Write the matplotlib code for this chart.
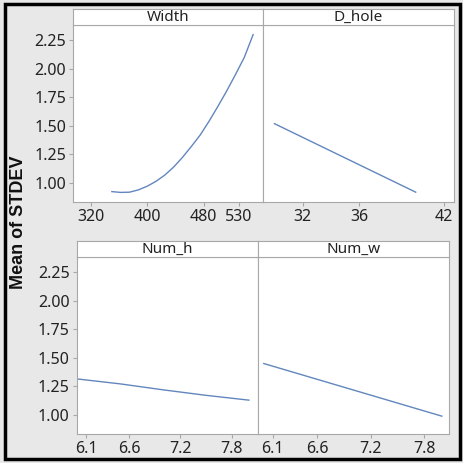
import matplotlib
matplotlib.use("Agg")
import matplotlib.pyplot as plt
from matplotlib.patches import Rectangle

plt.rcParams["font.family"] = ["Noto Sans", "DejaVu Sans"]

# ── Data (main effects, mean of STDEV) ───────────────────────────────────────
width_x = [350, 362.5, 375, 387.5, 400, 412.5, 425, 437.5, 450, 462.5,
           475, 487.5, 500, 512.5, 525, 537.5, 550]
width_y = [0.925, 0.918, 0.92, 0.94, 0.972, 1.015, 1.07, 1.14, 1.225, 1.32,
           1.42, 1.54, 1.67, 1.805, 1.95, 2.10, 2.30]

dhole_x = [30, 35, 40]
dhole_y = [1.52, 1.22, 0.92]

numh_x = [6.0, 6.5, 7.0, 7.5, 8.0]
numh_y = [1.315, 1.272, 1.22, 1.172, 1.13]

numw_x = [6.0, 7.0, 8.0]
numw_y = [1.45, 1.22, 0.99]

y_ticks = [1.00, 1.25, 1.50, 1.75, 2.00, 2.25]
width_ticks = [320, 400, 480, 530]
dhole_ticks = [32, 36, 42]
num_ticks = [6.1, 6.6, 7.2, 7.8]

# ── Layout (pixel boxes: left, top, right, bottom) ───────────────────────────
W, H = 464, 463
bg = "#e8e8e8"
edge = "#a8a8a8"
line_col = "#6286bd"

fig = plt.figure(figsize=(W / 100, H / 100), dpi=100, facecolor=bg)


def box(l, t, r, b):
    return [l / W, 1 - b / H, (r - l) / W, (b - t) / H]


def panel(l, t, r, b, head_t, title, x, y, xlim, xticks, show_y):
    ax = fig.add_axes(box(l, t, r, b))
    ax.set_facecolor("white")
    ax.plot(x, y, color=line_col, lw=1.0)
    ax.set_xlim(*xlim)
    ax.set_ylim(0.834, 2.384)
    ax.set_xticks(xticks)
    ax.set_xticklabels([f"{v:g}" for v in xticks])
    ax.set_yticks(y_ticks)
    ax.set_yticklabels([f"{v:.2f}" for v in y_ticks])
    ax.tick_params(length=3, width=0.8, color=edge, labelsize=11.5,
                   labelcolor="#222222", pad=2)
    if not show_y:
        ax.tick_params(axis="y", left=False, labelleft=False)
    for s in ax.spines.values():
        s.set_color(edge)
        s.set_linewidth(0.8)
    # header strip
    hx = fig.add_axes(box(l, head_t, r, t))
    hx.set_facecolor("white")
    hx.set_xticks([])
    hx.set_yticks([])
    for s in hx.spines.values():
        s.set_color(edge)
        s.set_linewidth(0.8)
    hx.text(0.5, 0.45, title, ha="center", va="center", fontsize=11,
            color="#222222", transform=hx.transAxes)
    return ax


panel(73, 25, 263, 202, 9, "Width", width_x, width_y, (295, 564),
      width_ticks, True)
panel(263, 25, 454, 202, 9, "D_hole", dhole_x, dhole_y, (29.19, 42.71),
      dhole_ticks, False)
panel(76.7, 256.7, 258.3, 434, 240.7, "Num_h", numh_x, numh_y, (5.99, 8.11),
      num_ticks, True)
panel(258.3, 256.7, 449.3, 434, 240.7, "Num_w", numw_x, numw_y, (5.938, 8.084),
      num_ticks, False)

fig.text(19 / W, 1 - 222 / H, "Mean of STDEV", rotation=90, ha="center",
         va="center", fontsize=13, fontweight="bold", color="#111111",
         family=["Liberation Sans", "DejaVu Sans"])

# outer black frame
fig.patches.append(Rectangle((4.5 / W, 4.5 / H), (W - 8) / W, (H - 8) / H,
                             transform=fig.transFigure, fill=False,
                             edgecolor="black", linewidth=2.5))

fig.savefig("out.png", dpi=100, facecolor=bg)
plt.close(fig)
